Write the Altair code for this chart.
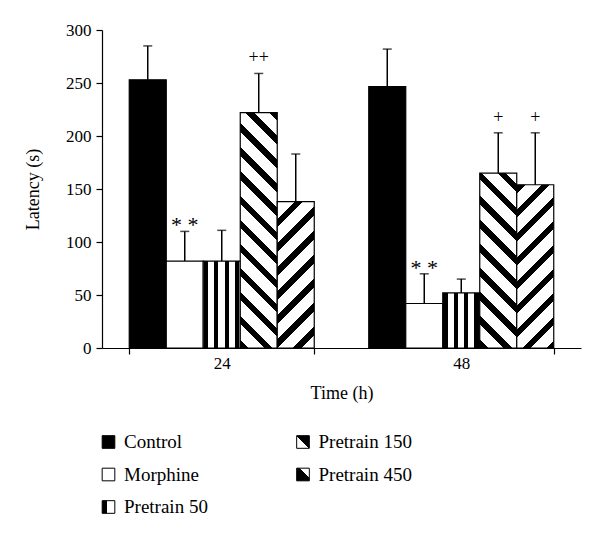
import math
import altair as alt
import pandas as pd

# ---------------- data ----------------
times = ["24", "48"]
groups = ["Control", "Morphine", "Pretrain 50", "Pretrain 150", "Pretrain 450"]
latency_24 = [253, 82, 82, 222, 138]
latency_48 = [246.5, 42, 52, 165, 154]
err_top_24 = [285, 110, 111, 259, 183]
err_top_48 = [282, 70, 65, 203, 203]
signif_24 = ["", "* *", "", "++", ""]
signif_48 = ["", "* *", "", "+", "+"]
y_ticks = [0, 50, 100, 150, 200, 250, 300]

legend_col = [0, 0, 0, 1, 1]
legend_row = [0, 1, 2, 0, 1]

# ---------------- layout / style ----------------
W, H = 479, 318
YMAX = 300
FONT = "Liberation Serif"
PAD_INNER = 0.2276

rows = []
for t, lat, err, sig in [("24", latency_24, err_top_24, signif_24),
                         ("48", latency_48, err_top_48, signif_48)]:
    for g, v, e, s in zip(groups, lat, err, sig):
        rows.append({"time": t, "group": g, "latency": v, "err": e, "sig": s})
df = pd.DataFrame(rows)

step = W / 2.0
bar_w = step * (1 - PAD_INNER) / len(groups)
px_per_unit = H / YMAX


def stripe_stops(D, P, B, phi=0.0):
    stops = [{"offset": 0, "color": "white"}]
    s = -(phi % P)
    while s < D:
        a, b = max(s, 0.0), min(s + B, D)
        if b > a:
            ta, tb = round(a / D, 5), round(b / D, 5)
            stops += [{"offset": ta, "color": "white"}, {"offset": ta, "color": "black"},
                      {"offset": tb, "color": "black"}, {"offset": tb, "color": "white"}]
        s += P
    stops.append({"offset": 1, "color": "white"})
    return stops


P_DIAG, B_DIAG = 17.0, 6.0


def diag_gradient(value, direction, phi=0.0):
    w, h = bar_w, value * px_per_unit
    c = (1 / h + 1 / w) / (1 / h ** 2 + 1 / w ** 2)
    D = (w + h) / math.sqrt(2)
    stops = stripe_stops(D, P_DIAG, B_DIAG, phi)
    if direction == "back":   # "\" stripes
        return alt.LinearGradient(gradient="linear", x1=0, y1=1, x2=c / h, y2=1 - c / w, stops=stops)
    return alt.LinearGradient(gradient="linear", x1=0, y1=0, x2=c / h, y2=c / w, stops=stops)


vert_grad = alt.LinearGradient(
    gradient="linear", x1=0, y1=0, x2=1, y2=0,
    stops=stripe_stops(bar_w, 10.3, 4.2, -0.7))

x_enc = alt.X("time:N", sort=times,
              scale=alt.Scale(paddingInner=PAD_INNER, paddingOuter=PAD_INNER / 2),
              axis=alt.Axis(title="Time (h)", labelAngle=0, tickBand="extent",
                            labelPadding=1, titlePadding=13))
xo_enc = alt.XOffset("group:N", scale=alt.Scale(domain=groups))


def y_enc(field):
    return alt.Y(f"{field}:Q", scale=alt.Scale(domain=[0, YMAX], nice=False),
                 axis=alt.Axis(title="Latency (s)", values=y_ticks, labelPadding=5,
                               titlePadding=23))


base = alt.Chart(df).encode(x=x_enc, xOffset=xo_enc, y=y_enc("latency"))
bar_style = dict(stroke="black", strokeWidth=1.2)

layers = [
    base.transform_filter(alt.datum.group == "Control").mark_bar(fill="black", **bar_style),
    base.transform_filter(alt.datum.group == "Morphine").mark_bar(fill="white", **bar_style),
    base.transform_filter(alt.datum.group == "Pretrain 50").mark_bar(fill=vert_grad, **bar_style),
]
for t, lat in [("24", latency_24), ("48", latency_48)]:
    v150, v450 = lat[3], lat[4]
    h450 = v450 * px_per_unit
    phi450 = (-(bar_w + h450) / math.sqrt(2) + B_DIAG) % P_DIAG
    layers.append(
        base.transform_filter((alt.datum.group == "Pretrain 150") & (alt.datum.time == t))
        .mark_bar(fill=diag_gradient(v150, "back"), **bar_style))
    layers.append(
        base.transform_filter((alt.datum.group == "Pretrain 450") & (alt.datum.time == t))
        .mark_bar(fill=diag_gradient(v450, "fwd", -phi450), **bar_style))

err_rule = base.mark_rule(color="black", strokeWidth=1.5).encode(y=y_enc("latency"), y2="err:Q")
err_cap = base.mark_tick(color="black", size=9, thickness=1.5).encode(y=y_enc("err"))
stars = base.transform_filter(alt.datum.sig == "* *").mark_text(
    font=FONT, fontSize=22, baseline="alphabetic", dy=1, fill="black").encode(
    y=y_enc("err"), text="sig:N")
plus = base.transform_filter((alt.datum.sig == "+") | (alt.datum.sig == "++")).mark_text(
    font=FONT, fontSize=18, baseline="alphabetic", dy=-10, fill="black").encode(
    y=y_enc("err"), text="sig:N")

main = alt.layer(*layers, err_rule, err_cap, stars, plus).properties(width=W, height=H)

# ---------------- legend ----------------
leg_df = pd.DataFrame({"group": groups, "col": legend_col, "row": legend_row})
lx = alt.X("col:Q", scale=alt.Scale(domain=[0, 1], range=[6.5, 201]), axis=None)
ly = alt.Y("row:Q", scale=alt.Scale(domain=[0, 2], range=[16, 81]), axis=None)
leg_base = alt.Chart(leg_df).encode(x=lx, y=ly)

leg_fills = {
    "Control": "black",
    "Morphine": "white",
    "Pretrain 50": alt.LinearGradient(gradient="linear", x1=0, y1=0, x2=1, y2=0, stops=[
        {"offset": 0, "color": "black"}, {"offset": 0.4, "color": "black"},
        {"offset": 0.4, "color": "white"}, {"offset": 1, "color": "white"}]),
    "Pretrain 150": alt.LinearGradient(gradient="linear", x1=0, y1=1, x2=1, y2=0, stops=[
        {"offset": 0, "color": "white"}, {"offset": 0.5, "color": "white"},
        {"offset": 0.5, "color": "black"}, {"offset": 1, "color": "black"}]),
    "Pretrain 450": alt.LinearGradient(gradient="linear", x1=0, y1=1, x2=1, y2=0, stops=[
        {"offset": 0, "color": "black"}, {"offset": 0.6, "color": "black"},
        {"offset": 0.6, "color": "white"}, {"offset": 1, "color": "white"}]),
}
leg_layers = []
for g in groups:
    leg_layers.append(
        leg_base.transform_filter(alt.datum.group == g).mark_square(
            size=160, fill=leg_fills[g], stroke="black", strokeWidth=1, opacity=1))
leg_text = leg_base.mark_text(align="left", baseline="middle", dx=15.5, font=FONT,
                              fontSize=19, fill="black").encode(text="group:N")
legend = alt.layer(*leg_layers, leg_text).properties(width=300, height=97)

chart = alt.vconcat(main, legend, spacing=24).properties(
    padding={"left": 16, "top": 13, "right": 5, "bottom": 5}
).configure_view(stroke=None).configure_axis(
    domainColor="black", tickColor="black", labelColor="black", titleColor="black",
    labelFont=FONT, titleFont=FONT, labelFontSize=17, titleFontSize=18,
    titleFontWeight="normal", grid=False, tickSize=6, domainWidth=1.2, tickWidth=1.2
)

chart.save("out.html", embed_options={"renderer": "svg", "actions": False})
